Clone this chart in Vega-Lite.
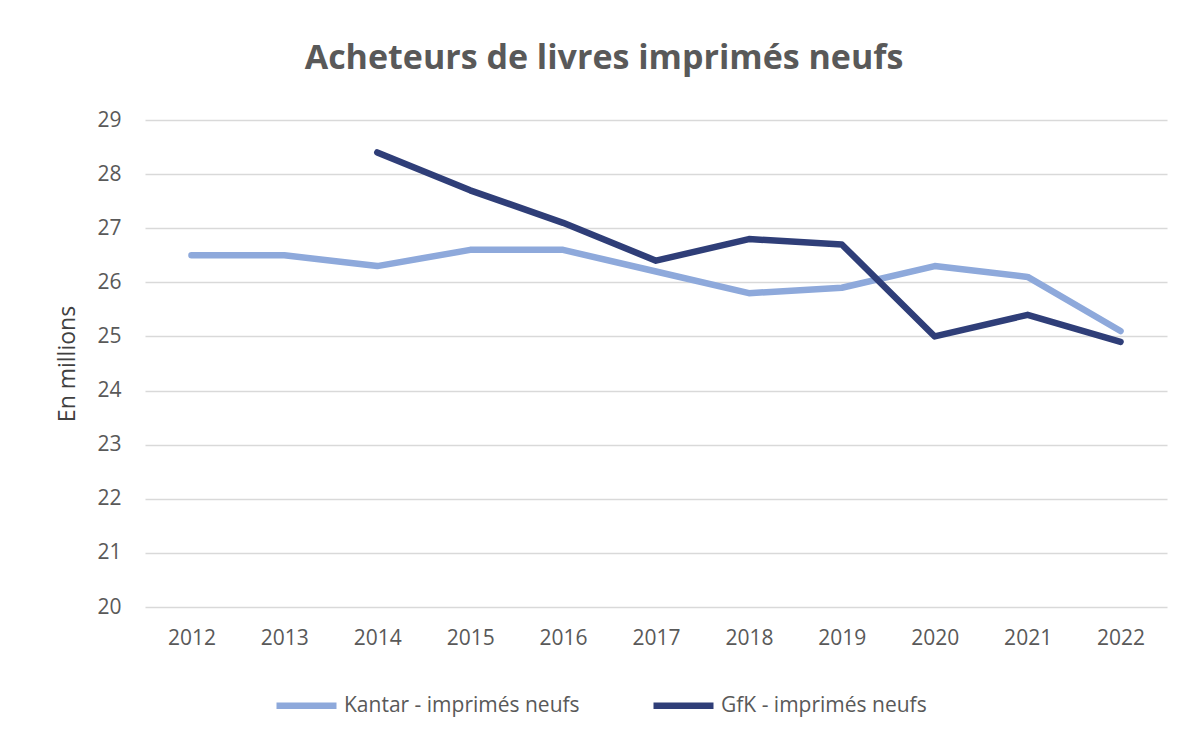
{
  "$schema": "https://vega.github.io/schema/vega-lite/v6.json",
  "width": 1022,
  "height": 487,
  "autosize": {"type": "none"},
  "padding": {"left": 145, "top": 120, "right": 19, "bottom": 130},
  "background": "white",
  "title": {
    "text": "Acheteurs de livres imprimés neufs",
    "font": "Open Sans",
    "fontSize": 34,
    "fontWeight": "bold",
    "color": "#595959",
    "anchor": "middle",
    "dx": -52,
    "offset": 33
  },
  "data": {
    "values": [
      {"annee": "2012", "serie": "Kantar - imprimés neufs", "valeur": 26.5},
      {"annee": "2013", "serie": "Kantar - imprimés neufs", "valeur": 26.5},
      {"annee": "2014", "serie": "Kantar - imprimés neufs", "valeur": 26.3},
      {"annee": "2015", "serie": "Kantar - imprimés neufs", "valeur": 26.6},
      {"annee": "2016", "serie": "Kantar - imprimés neufs", "valeur": 26.6},
      {"annee": "2017", "serie": "Kantar - imprimés neufs", "valeur": 26.2},
      {"annee": "2018", "serie": "Kantar - imprimés neufs", "valeur": 25.8},
      {"annee": "2019", "serie": "Kantar - imprimés neufs", "valeur": 25.9},
      {"annee": "2020", "serie": "Kantar - imprimés neufs", "valeur": 26.3},
      {"annee": "2021", "serie": "Kantar - imprimés neufs", "valeur": 26.1},
      {"annee": "2022", "serie": "Kantar - imprimés neufs", "valeur": 25.1},
      {"annee": "2014", "serie": "GfK - imprimés neufs", "valeur": 28.4},
      {"annee": "2015", "serie": "GfK - imprimés neufs", "valeur": 27.7},
      {"annee": "2016", "serie": "GfK - imprimés neufs", "valeur": 27.1},
      {"annee": "2017", "serie": "GfK - imprimés neufs", "valeur": 26.4},
      {"annee": "2018", "serie": "GfK - imprimés neufs", "valeur": 26.8},
      {"annee": "2019", "serie": "GfK - imprimés neufs", "valeur": 26.7},
      {"annee": "2020", "serie": "GfK - imprimés neufs", "valeur": 25.0},
      {"annee": "2021", "serie": "GfK - imprimés neufs", "valeur": 25.4},
      {"annee": "2022", "serie": "GfK - imprimés neufs", "valeur": 24.9}
    ]
  },
  "mark": {"type": "line", "strokeWidth": 6.5, "strokeCap": "round", "strokeJoin": "round"},
  "encoding": {
    "x": {
      "field": "annee",
      "type": "ordinal",
      "scale": {"type": "point", "padding": 0.5},
      "axis": {
        "title": null,
        "labelAngle": 0,
        "labelFont": "Open Sans",
        "labelFontSize": 21,
        "labelColor": "#595959",
        "labelPadding": 20,
        "ticks": false,
        "domain": false,
        "grid": false
      }
    },
    "y": {
      "field": "valeur",
      "type": "quantitative",
      "scale": {"domain": [20, 29], "nice": false, "zero": false},
      "axis": {
        "title": "En millions",
        "titleFont": "Open Sans",
        "titleFontSize": 23,
        "titleFontWeight": "normal",
        "titleColor": "#404040",
        "titlePadding": 17,
        "values": [20, 21, 22, 23, 24, 25, 26, 27, 28, 29],
        "format": "d",
        "labelFont": "Open Sans",
        "labelFontSize": 21,
        "labelColor": "#595959",
        "labelPadding": 24,
        "ticks": false,
        "domain": false,
        "grid": true,
        "gridColor": "#d9d9d9",
        "gridWidth": 1.5
      }
    },
    "color": {
      "field": "serie",
      "type": "nominal",
      "sort": ["Kantar - imprimés neufs", "GfK - imprimés neufs"],
      "scale": {
        "domain": ["Kantar - imprimés neufs", "GfK - imprimés neufs"],
        "range": ["#8EA9DB", "#2F3E78"]
      },
      "legend": {
        "title": null,
        "orient": "none",
        "legendX": 128,
        "legendY": 552,
        "direction": "horizontal",
        "symbolType": "stroke",
        "symbolSize": 3600,
        "symbolStrokeWidth": 6.5,
        "labelFont": "Open Sans",
        "labelFontSize": 21,
        "labelColor": "#595959",
        "labelOffset": 4,
        "columnPadding": 60,
        "labelLimit": 400
      }
    }
  },
  "config": {
    "view": {"stroke": null}
  }
}
